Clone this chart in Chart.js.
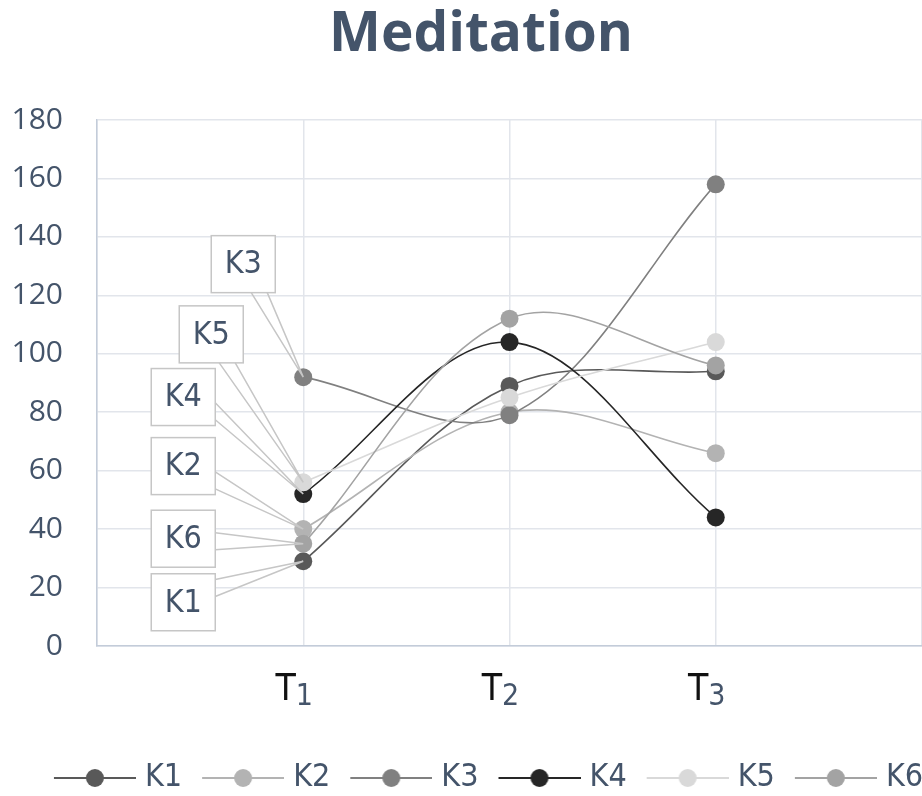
<!DOCTYPE html>
<html>
<head>
<meta charset="utf-8">
<script src="https://cdn.jsdelivr.net/npm/chart.js@4/dist/chart.umd.min.js"></script>
<style>
  html, body { margin: 0; padding: 0; background: #ffffff; }
  #wrap { width: 922px; height: 796px; }
</style>
</head>
<body>
<div id="wrap"><canvas id="chart"></canvas></div>
<script>
// Measurement times (T with subscript index)
const timeBase = 'T';
const timeSubs = ['1', '2', '3'];

// Subjects
const seriesNames = ['K1', 'K2', 'K3', 'K4', 'K5', 'K6'];

// Meditation scores at T1, T2, T3
const k1 = [29, 89, 94];
const k2 = [40, 80, 66];
const k3 = [92, 79, 158];
const k4 = [52, 104, 44];
const k5 = [56, 85, 104];
const k6 = [35, 112, 96];
const seriesValues = [k1, k2, k3, k4, k5, k6];

// Value axis
const yMin = 0;
const yMax = 180;
const yStep = 20;

const chartTitle = 'Meditation';

const seriesColors = ['#595959', '#b3b3b3', '#808080', '#262626', '#d9d9d9', '#a3a3a3'];
const slate = '#44546a';
const gridColor = '#e2e5eb';
const axisColor = '#c3ccd9';
const narrowFont = "'DejaVu Sans Condensed', 'Liberation Sans Narrow', sans-serif";
const sansFont = "'Open Sans', sans-serif";

// Legend swatch: short line with a dot in its middle (left part transparent)
function legendSwatch(color) {
  const c = document.createElement('canvas');
  c.width = 104; c.height = 22;
  const g = c.getContext('2d');
  g.strokeStyle = color; g.lineWidth = 2;
  g.beginPath(); g.moveTo(22, 11); g.lineTo(104, 11); g.stroke();
  g.fillStyle = color;
  g.beginPath(); g.arc(63, 11, 9, 0, Math.PI * 2); g.fill();
  return c;
}
const swatches = seriesColors.map(legendSwatch);

// Title centred over the whole figure, slightly right of the canvas middle
const titlePlugin = {
  id: 'figureTitle',
  afterDraw(chart) {
    const ctx = chart.ctx;
    ctx.save();
    ctx.font = 'bold 55px ' + sansFont;
    ctx.fillStyle = slate;
    ctx.textAlign = 'center';
    ctx.textBaseline = 'alphabetic';
    ctx.fillText(chartTitle, 481, 51);
    ctx.restore();
  }
};

// Legend row is centred over the same span as the title
const legendShift = {
  id: 'legendShift',
  afterLayout(chart) {
    if (chart.legend) {
      chart.legend.left = 32;
      chart.legend.right = 930;
    }
  }
};

// Category labels "T" + subscript under the x axis
const timeAxisLabels = {
  id: 'timeAxisLabels',
  afterDraw(chart) {
    const xs = chart.scales.x;
    const ctx = chart.ctx;
    ctx.save();
    ctx.textBaseline = 'alphabetic';
    ctx.textAlign = 'left';
    timeSubs.forEach((sub, i) => {
      const cx = xs.getPixelForValue(i + 1) - 9;
      ctx.font = '37px ' + narrowFont;
      const wT = ctx.measureText(timeBase).width;
      ctx.font = '30px ' + narrowFont;
      const wS = ctx.measureText(sub).width;
      const left = cx - (wT + wS) / 2;
      ctx.font = '37px ' + narrowFont;
      ctx.fillStyle = '#111111';
      ctx.fillText(timeBase, left, xs.top + 54);
      ctx.font = '30px ' + narrowFont;
      ctx.fillStyle = slate;
      ctx.fillText(sub, left + wT, xs.top + 59);
    });
    ctx.restore();
  }
};

// Boxed series names with leader wedges pointing at the first points
const callouts = {
  id: 'callouts',
  afterDatasetsDraw(chart, args, opts) {
    const ctx = chart.ctx;
    const w = opts.width, h = opts.height;
    ctx.save();
    opts.items.forEach(item => {
      const pt = chart.getDatasetMeta(item.dataset).data[0];
      const cx = pt.x + item.dx, cy = pt.y + item.dy;
      const ddx = pt.x - cx, ddy = pt.y - cy;
      const clamp = (v, a, b) => Math.max(a, Math.min(b, v));
      let b1, b2;
      if (Math.abs(ddx) / (w / 2) > Math.abs(ddy) / (h / 2)) {
        const sx = cx + Math.sign(ddx) * w / 2;
        const m = cy + clamp(ddy * 0.5, -h / 4, h / 4);
        b1 = [sx, m - 8.5]; b2 = [sx, m + 8.5];
      } else {
        const sy = cy + Math.sign(ddy) * h / 2;
        const m = cx + clamp(ddx * 0.5, -w / 4, w / 4);
        b1 = [m - 8, sy]; b2 = [m + 8, sy];
      }
      ctx.fillStyle = '#ffffff';
      ctx.strokeStyle = '#c6c6c6';
      ctx.lineWidth = 1.5;
      ctx.fillRect(cx - w / 2, cy - h / 2, w, h);
      ctx.strokeRect(cx - w / 2, cy - h / 2, w, h);
      ctx.beginPath();
      ctx.moveTo(b1[0], b1[1]); ctx.lineTo(pt.x, pt.y);
      ctx.moveTo(b2[0], b2[1]); ctx.lineTo(pt.x, pt.y);
      ctx.stroke();
      ctx.fillStyle = slate;
      ctx.font = '32px ' + narrowFont;
      ctx.textAlign = 'center';
      ctx.textBaseline = 'middle';
      ctx.fillText(seriesNames[item.dataset], cx, cy + 1);
    });
    ctx.restore();
  }
};

const datasets = seriesNames.map((name, i) => ({
  label: name,
  data: seriesValues[i].map((v, j) => ({ x: j + 1, y: v })),
  borderColor: seriesColors[i],
  backgroundColor: seriesColors[i],
  pointBackgroundColor: seriesColors[i],
  pointBorderColor: seriesColors[i],
  pointBorderWidth: 0,
  pointRadius: 9,
  pointHoverRadius: 9,
  borderWidth: 1.6,
  tension: 0.35,
  order: seriesNames.length - i,
  clip: false
}));

new Chart(document.getElementById('chart'), {
  type: 'line',
  data: { datasets },
  options: {
    responsive: true,
    maintainAspectRatio: false,
    animation: false,
    events: [],
    layout: { autoPadding: false, padding: { left: 0, right: -3, top: 120, bottom: -8 } },
    scales: {
      x: {
        type: 'linear',
        min: 0,
        max: 4,
        ticks: { stepSize: 1, display: false },
        grid: { color: gridColor, lineWidth: 1.5, drawTicks: false },
        border: { color: axisColor, width: 1.5 },
        afterFit(s) { s.height = 111; }
      },
      y: {
        min: yMin,
        max: yMax,
        ticks: { stepSize: yStep, color: slate, padding: 34, font: { family: sansFont, size: 30 } },
        grid: { color: gridColor, lineWidth: 1.5, drawTicks: false },
        border: { color: axisColor, width: 1.5 },
        afterFit(s) { s.width = 97; }
      }
    },
    plugins: {
      title: { display: false },
      legend: {
        position: 'bottom',
        labels: {
          usePointStyle: true,
          pointStyleWidth: 90,
          padding: 5,
          color: slate,
          font: { family: narrowFont, size: 32 },
          generateLabels(chart) {
            return chart.data.datasets.map((ds, i) => ({
              text: ds.label,
              fillStyle: ds.backgroundColor,
              strokeStyle: ds.borderColor,
              lineWidth: 0,
              pointStyle: swatches[i],
              hidden: !chart.isDatasetVisible(i),
              datasetIndex: i,
              fontColor: slate
            }));
          }
        }
      },
      tooltip: { enabled: false },
      callouts: {
        width: 64,
        height: 57,
        items: [
          { dataset: 2, dx: -60, dy: -113 },
          { dataset: 4, dx: -92, dy: -148 },
          { dataset: 3, dx: -120, dy: -97 },
          { dataset: 1, dx: -120, dy: -63 },
          { dataset: 5, dx: -120, dy: -5 },
          { dataset: 0, dx: -120, dy: 41 }
        ]
      }
    }
  },
  plugins: [titlePlugin, legendShift, timeAxisLabels, callouts]
});
</script>
</body>
</html>
